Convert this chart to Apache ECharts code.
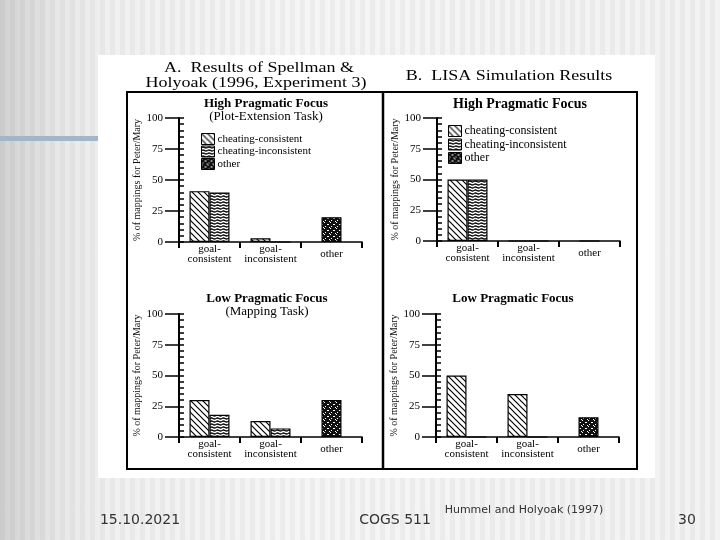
<!DOCTYPE html>
<html><head><meta charset="utf-8">
<script src="https://cdn.jsdelivr.net/npm/echarts/dist/echarts.min.js"></script>
<style>
html,body{margin:0;padding:0;}
body{width:720px;height:540px;overflow:hidden;
background:
 repeating-linear-gradient(90deg, rgba(0,0,0,0.035) 0 5px, rgba(255,255,255,0) 5px 10px),
 linear-gradient(90deg,#d2d2d2 0,#dcdcdc 30px,#e8e8e8 60px,#f0f0f0 110px,#f5f5f5 300px,#f2f2f2 720px);}
#chart{width:720px;height:540px;}
</style></head><body><div id="chart"></div>
<script>
// ---- data ----
const categories = ['goal-\nconsistent', 'goal-\ninconsistent', 'other'];
const seriesNames = ['cheating-consistent', 'cheating-inconsistent', 'other'];
const yTickLabels = [0, 25, 50, 75, 100];
// A. Spellman & Holyoak (1996), High pragmatic focus
const humanHighConsistent   = [41, 3, '-'];
const humanHighInconsistent = [40, 0, '-'];
const humanHighOther        = ['-', '-', 20];
// B. LISA, High pragmatic focus
const lisaHighConsistent    = [50, 0, '-'];
const lisaHighInconsistent  = [50, 0, '-'];
const lisaHighOther         = ['-', '-', 0];
// A. Spellman & Holyoak (1996), Low pragmatic focus
const humanLowConsistent    = [30, 13, '-'];
const humanLowInconsistent  = [18, 7, '-'];
const humanLowOther         = ['-', '-', 30];
// B. LISA, Low pragmatic focus
const lisaLowConsistent     = [50, 35, '-'];
const lisaLowInconsistent   = [0, 0, '-'];
const lisaLowOther          = ['-', '-', 16];

// ---- patterns ----
function pat(kind){
  const c = document.createElement('canvas');
  const x = c.getContext('2d');
  if (kind === 'diag'){
    c.width = 6; c.height = 6;
    x.fillStyle = '#fff'; x.fillRect(0,0,6,6);
    x.strokeStyle = '#000'; x.lineWidth = 1.2;
    x.beginPath();
    x.moveTo(-1,-1); x.lineTo(7,7);
    x.moveTo(-1,5); x.lineTo(1,7);
    x.moveTo(5,-1); x.lineTo(7,1);
    x.stroke();
  } else if (kind === 'wave'){
    c.width = 6; c.height = 3;
    x.fillStyle = '#fff'; x.fillRect(0,0,6,3);
    x.strokeStyle = '#000'; x.lineWidth = 1.3;
    x.beginPath();
    x.moveTo(0,1.5); x.quadraticCurveTo(1.5,0.5,3,1.5); x.quadraticCurveTo(4.5,2.5,6,1.5);
    x.stroke();
  } else {
    c.width = 6; c.height = 6;
    x.fillStyle = '#111'; x.fillRect(0,0,6,6);
    x.fillStyle = '#fff';
    x.fillRect(0,0,1,1); x.fillRect(3,2,2,1); x.fillRect(1,4,1,1); x.fillRect(5,5,1,1);
  }
  return {image: c, repeat: 'repeat'};
}
const patterns = [pat('diag'), pat('wave'), pat('check')];

const serif = 'Liberation Serif';
const panels = [
  {grid:{left:179, top:118, width:183, height:124}, data:[humanHighConsistent, humanHighInconsistent, humanHighOther], legend:{left:196, top:128, size:11, gap:0.5}},
  {grid:{left:437, top:118, width:183, height:123}, data:[lisaHighConsistent, lisaHighInconsistent, lisaHighOther], legend:{left:443, top:120, size:12, gap:1.5}},
  {grid:{left:179, top:314, width:183, height:123}, data:[humanLowConsistent, humanLowInconsistent, humanLowOther]},
  {grid:{left:436, top:314, width:183, height:123}, data:[lisaLowConsistent, lisaLowInconsistent, lisaLowOther]}
];

const grid = [], xAxis = [], yAxis = [], series = [], legend = [];
const yMin = yTickLabels[0], yMax = yTickLabels[yTickLabels.length-1], yStep = yTickLabels[1]-yTickLabels[0];
panels.forEach((p, i) => {
  grid.push(Object.assign({outerBoundsMode:'none', containLabel:false}, p.grid));
  xAxis.push({
    type:'category', gridIndex:i, data:categories, position:'bottom',
    axisLine:{lineStyle:{color:'#000', width:1.5}},
    axisTick:{show:true, length:6, lineStyle:{color:'#000', width:2}},
    axisLabel:{fontFamily:serif, fontSize:11, color:'#000', lineHeight:10, verticalAlign:'middle', margin:12, interval:0}
  });
  xAxis.push({type:'category', gridIndex:i, data:categories, show:false, position:'bottom'});
  yAxis.push({
    type:'value', gridIndex:i, position:'left', offset:0, min:yMin, max:yMax, interval:yStep,
    name:'% of mappings for Peter/Mary', nameLocation:'middle', nameRotate:90, nameGap:36,
    nameTextStyle:{fontFamily:serif, fontSize:10, color:'#111'},
    axisLine:{show:true, lineStyle:{color:'#000', width:2}},
    axisTick:{show:true, length:14, lineStyle:{color:'#000', width:1.5}},
    axisLabel:{fontFamily:serif, fontSize:11, color:'#000', margin:16},
    splitLine:{show:false}
  });
  yAxis.push({
    type:'value', gridIndex:i, position:'left', offset:0, min:yMin, max:yMax, interval:yStep,
    axisLine:{show:false}, axisLabel:{show:false}, splitLine:{show:false},
    axisTick:{show:true, inside:true, length:5, lineStyle:{color:'#000', width:1.5}},
    minorTick:{show:true, splitNumber:5, length:5, lineStyle:{color:'#000', width:1.5}}
  });
  p.data.forEach((d, k) => {
    series.push({
      name: seriesNames[k], type:'bar',
      xAxisIndex: k === 2 ? 2*i+1 : 2*i, yAxisIndex: 2*i,
      data: d, barWidth:20, barGap:'0%',
      itemStyle:{color: patterns[k], borderColor:'#000', borderWidth:1.2},
      emphasis:{disabled:true}, silent:true
    });
  });
  if (p.legend){
    legend.push({
      orient:'vertical', left:p.legend.left, top:p.legend.top,
      data: seriesNames, icon:'rect', itemWidth:13, itemHeight:11, itemGap:p.legend.gap,
      itemStyle:{borderColor:'#000', borderWidth:1},
      textStyle:{fontFamily:serif, fontSize:p.legend.size, color:'#000', lineHeight:11, padding:[0,0,0,-2]},
      selectedMode:false
    });
  }
});

function txt(t, x, y, font, color, sx){
  return {type:'text', z:5, x:x, y:y, scaleX:sx||1,
    style:{text:t, x:0, y:0, font:font, fill:color||'#000', textAlign:'center', textVerticalAlign:'middle', align:'center', verticalAlign:'middle'}};
}

const graphic = [
  {type:'rect', z:-10, shape:{x:0, y:136, width:98, height:5}, style:{fill:'#a2b5ca'}},
  {type:'rect', z:-10, shape:{x:98, y:55, width:557, height:423}, style:{fill:'#fff'}},
  {type:'rect', z:1, shape:{x:127, y:92, width:510, height:377}, style:{fill:'none', stroke:'#000', lineWidth:2}},
  {type:'line', z:1, shape:{x1:383, y1:92, x2:383, y2:469}, style:{stroke:'#000', lineWidth:2.5}},
  txt('A.  Results of Spellman &', 259, 68, '15px "Liberation Serif"', '#000', 1.2),
  txt('Holyoak (1996, Experiment 3)', 256, 83, '15px "Liberation Serif"', '#000', 1.2),
  txt('B.  LISA Simulation Results', 509, 76, '15px "Liberation Serif"', '#000', 1.2),
  txt('High Pragmatic Focus', 266, 104, 'bold 13px "Liberation Serif"'),
  txt('(Plot-Extension Task)', 266, 117, '13px "Liberation Serif"'),
  txt('High Pragmatic Focus', 520, 104, 'bold 14px "Liberation Serif"'),
  txt('Low Pragmatic Focus', 267, 299, 'bold 13px "Liberation Serif"'),
  txt('(Mapping Task)', 267, 312, '13px "Liberation Serif"'),
  txt('Low Pragmatic Focus', 513, 299, 'bold 13px "Liberation Serif"'),
  txt('15.10.2021', 140, 520, '14px "DejaVu Sans"', '#333'),
  txt('COGS 511', 395, 520, '14px "DejaVu Sans"', '#333'),
  txt('Hummel and Holyoak (1997)', 524, 510, '11px "DejaVu Sans"', '#333'),
  txt('30', 687, 520, '14px "DejaVu Sans"', '#333')
];

const chart = echarts.init(document.getElementById('chart'), null, {renderer:'canvas'});
chart.setOption({
  backgroundColor:'transparent', animation:false,
  grid, xAxis, yAxis, series, legend, graphic, tooltip:{show:false}
});
</script></body></html>
